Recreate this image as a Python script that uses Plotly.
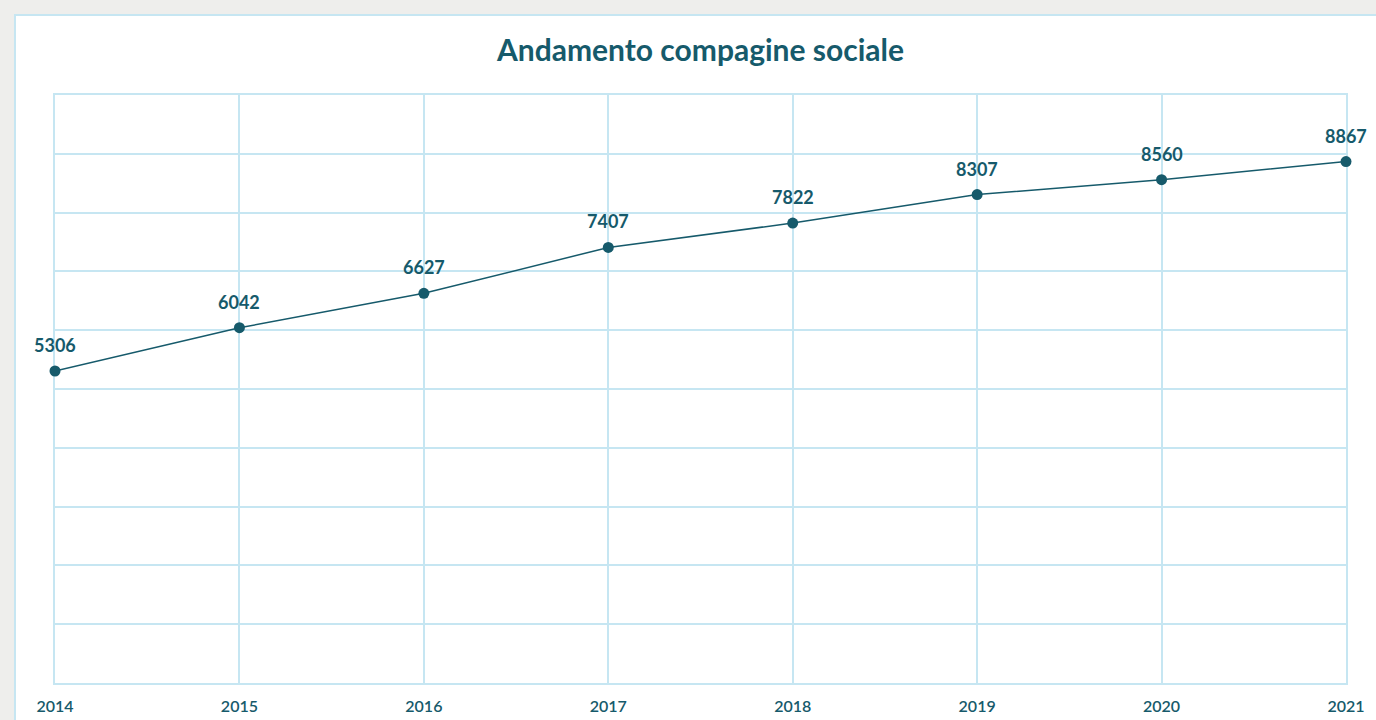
import plotly.graph_objects as go

# Data
years = [2014, 2015, 2016, 2017, 2018, 2019, 2020, 2021]
soci = [5306, 6042, 6627, 7407, 7822, 8307, 8560, 8867]

TEAL = "#165a6b"
GRID = "#c6e6f2"
FONT = "Lato, 'Open Sans', sans-serif"

fig = go.Figure(go.Scatter(
    x=years,
    y=soci,
    mode="lines+markers",
    line=dict(color=TEAL, width=1.5),
    marker=dict(color=TEAL, size=11),
    cliponaxis=False,
    hoverinfo="x+y",
))

# value labels above each point
for x, v in zip(years, soci):
    fig.add_annotation(
        x=x, y=v, text=f"<b>{v}</b>", showarrow=False,
        yshift=26, font=dict(family=FONT, size=18, color=TEAL),
    )

# white card on a grey page
fig.add_shape(
    type="rect", xref="paper", yref="paper",
    x0=-0.031, x1=1.2, y0=-0.2, y1=1.136,
    fillcolor="white", line=dict(color=GRID, width=2),
    layer="below",
)

fig.update_layout(
    width=1376,
    height=720,
    paper_bgcolor="#eeeeec",
    plot_bgcolor="white",
    margin=dict(l=55, r=30, t=95, b=37, autoexpand=False),
    showlegend=False,
    title=dict(
        text="<b>Andamento compagine sociale</b>",
        x=0.5, xref="paper", y=0.93, yanchor="middle",
        font=dict(family=FONT, size=30, color=TEAL),
    ),
    xaxis=dict(
        range=[2014, 2021],
        tickvals=years,
        ticktext=[str(y) for y in years],
        showgrid=True, gridcolor=GRID, gridwidth=1.5,
        showline=True, linecolor=GRID, linewidth=1.5, mirror=True,
        zeroline=False, ticks="", layer="below traces",
        automargin=False,
        ticklabelstandoff=8,
        tickfont=dict(family=FONT, size=16, color=TEAL, weight=600),
    ),
    yaxis=dict(
        range=[0, 10000],
        dtick=1000,
        showgrid=True, gridcolor=GRID, gridwidth=1.5,
        showline=True, linecolor=GRID, linewidth=1.5, mirror=True,
        zeroline=False, showticklabels=False, ticks="", layer="below traces",
        automargin=False,
    ),
)

fig.write_html(
    "out.html",
    config={"displayModeBar": False},
    post_script="document.body.style.margin='0';"
                "document.body.style.overflow='hidden';"
                "document.body.style.background='#eeeeec';",
)
